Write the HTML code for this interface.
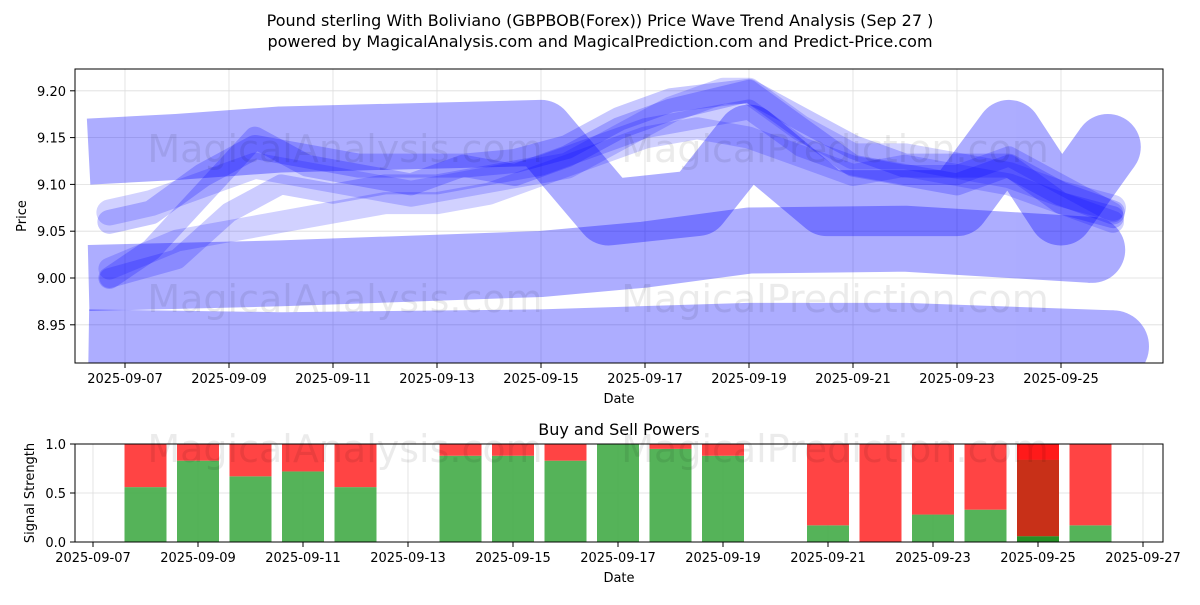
<!DOCTYPE html>
<html><head><meta charset="utf-8"><style>
body{margin:0;background:#fff;font-family:"Liberation Sans","DejaVu Sans",sans-serif}
svg text{font-family:"DejaVu Sans","Liberation Sans",sans-serif;fill:#000}
</style></head><body>
<svg id="c" width="1200" height="600" xmlns="http://www.w3.org/2000/svg">
<rect width="1200" height="600" fill="#fff"/>
<text x="600" y="26" font-size="16" text-anchor="middle">Pound sterling With Boliviano (GBPBOB(Forex)) Price Wave Trend Analysis (Sep 27 )</text>
<text x="600" y="47" font-size="16" text-anchor="middle">powered by MagicalAnalysis.com and MagicalPrediction.com and Predict-Price.com</text>
<defs><clipPath id="cp1"><rect x="75" y="69" width="1088" height="294"/></clipPath></defs>
<g id="top"></g>
<g id="bot"></g>
</svg>
<script>
const tickDates=["2025-09-07","2025-09-09","2025-09-11","2025-09-13","2025-09-15","2025-09-17","2025-09-19","2025-09-21","2025-09-23","2025-09-25"];
const priceTicks=[8.95,9.00,9.05,9.10,9.15,9.20];
const bandBottom=[[6.3,8.928],[10,8.925],[15,8.928],[19,8.935],[22,8.935],[26.0,8.927]];
const bandMid=[[6.3,9.0],[10,9.005],[15,9.015],[17,9.025],[19,9.04],[22,9.042],[25.6,9.03]];
const bandTop=[[6.3,9.135],[8,9.14],[10,9.148],[15,9.155],[16.3,9.07],[18,9.08],[19,9.15],[20.5,9.08],[23,9.08],[24,9.155],[25,9.07],[25.9,9.14]];
const line1=[[6.7,9.06],[7.5,9.07],[8.5,9.11],[9.5,9.14],[10.5,9.13],[11.5,9.12],[12.5,9.12],[13.5,9.12],[14.5,9.125],[15.5,9.14],[16.5,9.17],[17.5,9.19],[19,9.2],[20,9.17],[21,9.14],[22,9.12],[23,9.12],[24,9.12],[25,9.09],[26,9.07]];
const line2=[[6.7,9.0],[7.5,9.03],[8.5,9.09],[9.5,9.15],[10.5,9.12],[11.5,9.11],[12.5,9.10],[13.5,9.12],[14.5,9.11],[15.5,9.13],[16.5,9.16],[17.5,9.18],[19,9.2],[20,9.16],[21,9.12],[22,9.11],[23,9.1],[24,9.12],[25,9.08],[26,9.065]];
const line3=[[6.7,9.0],[8,9.02],[9,9.07],[10,9.1],[11,9.09],[12,9.1],[13,9.1],[14,9.11],[15,9.12],[16,9.14],[17,9.16],[18,9.17],[19,9.18],[20,9.14],[21,9.12],[22,9.11],[23,9.11],[24,9.13],[25,9.1],[26,9.07]];
const line4=[[6.7,9.01],[8,9.04],[9,9.05],[10,9.06],[11,9.07],[12,9.08],[13,9.08],[14,9.09],[15,9.11],[16,9.13],[17,9.15],[18,9.16],[19,9.15],[20,9.13],[21,9.11],[22,9.12],[23,9.11],[24,9.10],[25,9.08],[26,9.06]];
const line5=[[6.7,9.07],[7.5,9.08],[8.5,9.1],[9.5,9.12],[10.5,9.11],[11.5,9.1],[12.5,9.09],[13.5,9.1],[14.5,9.11],[15.5,9.12],[16.5,9.15],[17.5,9.18],[18.5,9.2],[19,9.2],[20,9.16],[21,9.13],[22,9.13],[23,9.12],[24,9.11],[25,9.09],[26,9.075]];
const barDays=[8,9,10,11,12,14,15,16,17,18,19,21,22,23,24,25,26];
const buyVals=[0.56,0.83,0.67,0.72,0.56,0.88,0.88,0.83,1.0,0.95,0.88,0.17,0.0,0.28,0.33,0.06,0.17];
const powTickDates=["2025-09-07","2025-09-09","2025-09-11","2025-09-13","2025-09-15","2025-09-17","2025-09-19","2025-09-21","2025-09-23","2025-09-25","2025-09-27"];
const powTicks=[0.0,0.5,1.0];

const NS="http://www.w3.org/2000/svg";
function mk(p,t,a,txt){const e=document.createElementNS(NS,t);for(const k in a)e.setAttribute(k,a[k]);if(txt!==undefined)e.textContent=txt;p.appendChild(e);return e;}
const X1=d=>125+(d-7)*52;
const Y1=v=>278-(v-9.0)*936;
const X2=d=>93+(d-7)*52.5;
const Y2=v=>542-v*98;
const gTop=document.getElementById('top'),gBot=document.getElementById('bot');
tickDates.forEach((t,i)=>{const x=X1(7+2*i);
 const g=mk(gTop,'line',{x1:x,x2:x,y1:69,y2:363,stroke:'#ddd','stroke-width':0.8});
 
 
 mk(gTop,'line',{x1:x,x2:x,y1:363,y2:368,stroke:'#000'});
 const l=mk(gTop,'text',{x:x,y:383,'font-size':13,'text-anchor':'middle'},t);
 
 });
priceTicks.forEach(v=>{const y=Y1(v);
 mk(gTop,'line',{x1:75,x2:1163,y1:y,y2:y,stroke:'#ddd','stroke-width':0.8});
 mk(gTop,'line',{x1:70,x2:75,y1:y,y2:y,stroke:'#000'});
 const l=mk(gTop,'text',{x:66,y:y+5,'font-size':13,'text-anchor':'end'},v.toFixed(2));
 
 });
const cg=mk(gTop,'g',{'clip-path':'url(#cp1)'});
function band(arr,w,op,name){
 const g=mk(cg,'g',{opacity:op});
 
 
 mk(g,'polyline',{points:arr.map(a=>X1(a[0])+','+Y1(a[1])).join(' '),fill:'none',stroke:'#0000ff','stroke-width':w,'stroke-linejoin':'round','stroke-linecap':'butt'});
 const e=arr[arr.length-1];
 mk(g,'circle',{cx:X1(e[0]),cy:Y1(e[1]),r:w/2,fill:'#0000ff'});
}
function pl(arr,w,op,name){const p=mk(cg,'polyline',{points:arr.map(a=>X1(a[0])+','+Y1(a[1])).join(' '),fill:'none',stroke:'#0000ff','stroke-opacity':op,'stroke-width':w,'stroke-linejoin':'round','stroke-linecap':'round'});
 
 }
band(bandBottom,72,0.32,'wave-band-bottom');
band(bandMid,66,0.32,'wave-band-middle');
band(bandTop,66,0.32,'wave-band-top');
pl(line1,24,0.22,'wave-line-1');pl(line2,22,0.22,'wave-line-2');pl(line3,20,0.2,'wave-line-3');pl(line4,22,0.18,'wave-line-4');pl(line5,26,0.18,'wave-line-5');
mk(gTop,'text',{x:345,y:162,'font-size':38,'text-anchor':'middle',style:'fill:rgba(0,0,0,0.08)'},'MagicalAnalysis.com');
mk(gTop,'text',{x:835,y:162,'font-size':38,'text-anchor':'middle',style:'fill:rgba(0,0,0,0.08)'},'MagicalPrediction.com');
mk(gTop,'text',{x:345,y:312,'font-size':38,'text-anchor':'middle',style:'fill:rgba(0,0,0,0.08)'},'MagicalAnalysis.com');
mk(gTop,'text',{x:835,y:312,'font-size':38,'text-anchor':'middle',style:'fill:rgba(0,0,0,0.08)'},'MagicalPrediction.com');
mk(gTop,'rect',{x:75,y:69,width:1088,height:294,fill:'none',stroke:'#000','stroke-width':1});
let tt=mk(gTop,'text',{x:619,y:403,'font-size':13,'text-anchor':'middle'},'Date');


tt=mk(gTop,'text',{x:26,y:216,'font-size':13,'text-anchor':'middle',transform:'rotate(-90 26 216)'},'Price');


mk(gBot,'text',{x:619,y:435,'font-size':16,'text-anchor':'middle'},'Buy and Sell Powers');
powTicks.forEach(v=>{const y=Y2(v);
 mk(gBot,'line',{x1:75,x2:1163,y1:y,y2:y,stroke:'#ddd','stroke-width':0.8});
 mk(gBot,'line',{x1:70,x2:75,y1:y,y2:y,stroke:'#000'});
 mk(gBot,'text',{x:66,y:y+5,'font-size':13,'text-anchor':'end'},v.toFixed(1));});
powTickDates.forEach((d,i)=>{const x=X2(7+2*i);
 mk(gBot,'line',{x1:x,x2:x,y1:444,y2:542,stroke:'#ddd','stroke-width':0.8});
 mk(gBot,'line',{x1:x,x2:x,y1:542,y2:547,stroke:'#000'});
 mk(gBot,'text',{x:x,y:562,'font-size':13,'text-anchor':'middle'},d);});
barDays.forEach((d,i)=>{const x=X2(d)-21,b=buyVals[i];const last=d===25;
 const g=mk(gBot,'rect',{x:x,y:Y2(b),width:42,height:Y2(0)-Y2(b),fill:last?'#1a8a1a':'#4caf50','fill-opacity':0.95});
 
 
 const r=mk(gBot,'rect',{x:x,y:Y2(1),width:42,height:Y2(b)-Y2(1),fill:'#ff4444'});
 
 
 if(last){mk(gBot,'rect',{x:x,y:Y2(0.84),width:42,height:Y2(b)-Y2(0.84),fill:'#c83018'});mk(gBot,'rect',{x:x,y:Y2(1),width:42,height:Y2(0.84)-Y2(1),fill:'#ff1a1a'});}
});
mk(gBot,'text',{x:345,y:462,'font-size':38,'text-anchor':'middle',style:'fill:rgba(0,0,0,0.08)'},'MagicalAnalysis.com');
mk(gBot,'text',{x:835,y:462,'font-size':38,'text-anchor':'middle',style:'fill:rgba(0,0,0,0.08)'},'MagicalPrediction.com');
mk(gBot,'rect',{x:75,y:444,width:1088,height:98,fill:'none',stroke:'#000','stroke-width':1});
mk(gBot,'text',{x:619,y:582,'font-size':13,'text-anchor':'middle'},'Date');
mk(gBot,'text',{x:34,y:493,'font-size':13,'text-anchor':'middle',transform:'rotate(-90 34 493)'},'Signal Strength');
</script>
</body></html>
